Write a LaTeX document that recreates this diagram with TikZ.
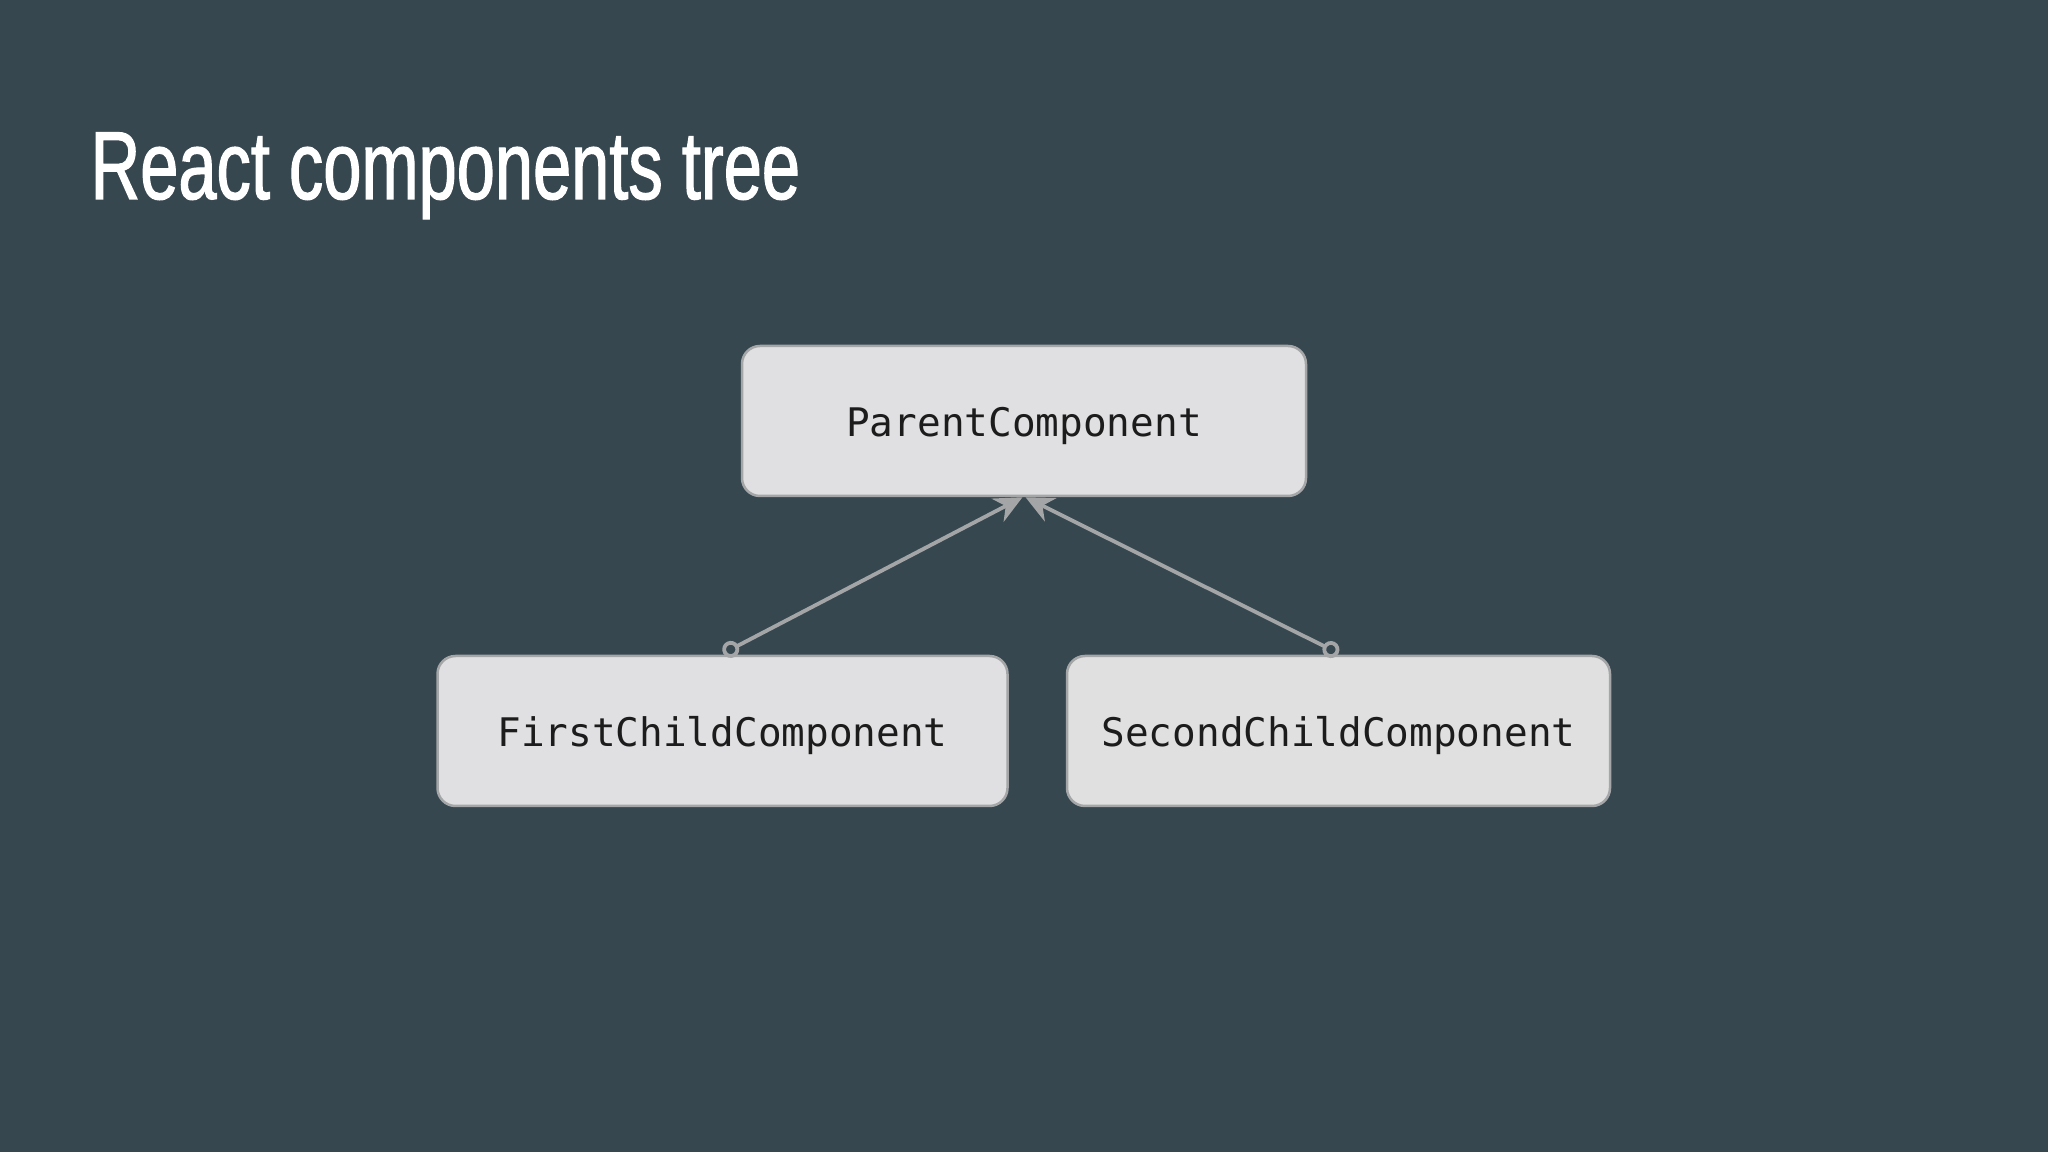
\documentclass[tikz,border=0pt]{standalone}
\usepackage{fontspec}
\usetikzlibrary{arrows.meta}
\newfontfamily\titlefont[FakeStretch=0.71,FakeBold=1.2]{Liberation Sans}
\newfontfamily\codefont{DejaVu Sans Mono}
\definecolor{bgcol}{HTML}{37474F}
\definecolor{boxfill}{HTML}{E0E0E2}
\definecolor{boxfilltwo}{HTML}{DFE0DF}
\definecolor{boxline}{HTML}{A4A6A8}
\definecolor{arrowcol}{HTML}{A3A5A7}
\definecolor{txtcol}{HTML}{1C1C1C}
\tikzset{
  compbox/.style={draw=boxline, fill=boxfill, line width=0.25mm, rounded corners=1.8mm,
    minimum height=15mm, inner sep=0pt, text height=3.1mm, text depth=0mm,
    font=\codefont\fontsize{11.2pt}{13pt}\selectfont, text=txtcol},
  link/.style={draw=arrowcol, line width=0.38mm,
    {Circle[open,length=1.7mm,width=1.7mm]}-{Stealth[length=2.8mm,width=2.6mm]}}
}
\begin{document}
\begin{tikzpicture}[x=0.1mm,y=-0.1mm]
\fill[bgcol] (0,0) rectangle (2048,1152);
\useasboundingbox (0,0) rectangle (2048,1152);
\node[anchor=base west, text=white, inner sep=0pt, font=\titlefont\fontsize{27.5pt}{30pt}\selectfont] (title) at (90,199) {React components tree};
\node[compbox, minimum width=56.4mm] (parent) at (1024,421) {ParentComponent};
\node[compbox, minimum width=57.0mm] (first) at (722.5,731) {FirstChildComponent};
\node[compbox, fill=boxfilltwo, minimum width=54.3mm] (second) at (1338.5,731) {SecondChildComponent};
\draw[link] ([xshift=0.07mm,yshift=0.14mm]first.north) -- ([xshift=-0.15mm]parent.south);
\draw[link] ([yshift=0.14mm]second.north) -- ([xshift=0.15mm]parent.south);
\end{tikzpicture}
\end{document}
